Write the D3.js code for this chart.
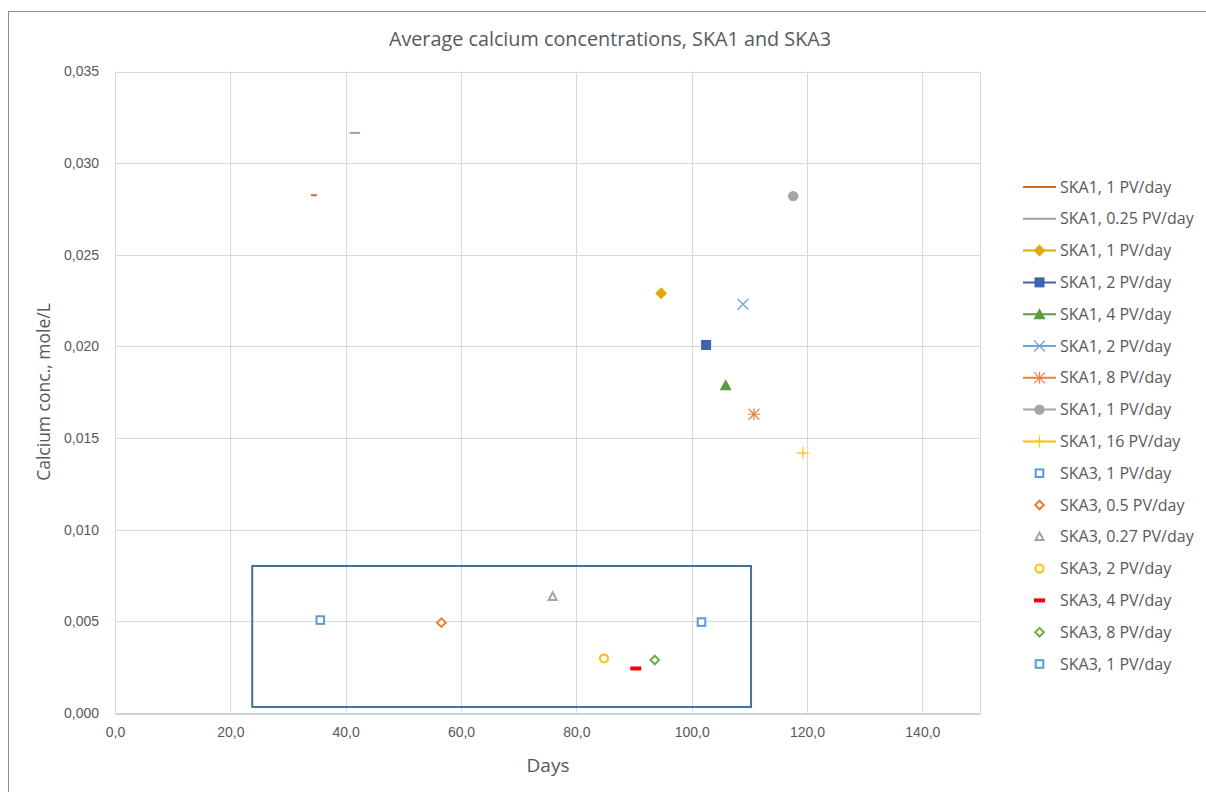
<!DOCTYPE html>
<html><head><meta charset="utf-8">
<script src="https://cdn.jsdelivr.net/npm/d3@7"></script>
<style>
html,body{margin:0;padding:0;background:#fff;}
svg{display:block;font-family:"Open Sans","Liberation Sans",sans-serif;}
</style></head>
<body>
<svg id="chart" width="1206" height="792"></svg>
<script>
// ---- Data ----
const seriesNames = [
  "SKA1, 1 PV/day","SKA1, 0.25 PV/day","SKA1, 1 PV/day","SKA1, 2 PV/day","SKA1, 4 PV/day",
  "SKA1, 2 PV/day","SKA1, 8 PV/day","SKA1, 1 PV/day","SKA1, 16 PV/day",
  "SKA3, 1 PV/day","SKA3, 0.5 PV/day","SKA3, 0.27 PV/day","SKA3, 2 PV/day","SKA3, 4 PV/day",
  "SKA3, 8 PV/day","SKA3, 1 PV/day"
];
const seriesColors = [
  "#D2691E","#A0A0A0","#E2A90A","#3F63AD","#5E9B3C","#6FA3DB","#F08040","#A5A5A5","#FFC000",
  "#5B9BD5","#ED7D31","#A5A5A5","#FFC000","#FF0000","#70AD47","#5B9BD5"
];
const seriesMarkers = [
  "none","none","diamond","square","triangle","x","star","circle","plus",
  "osquare","odiamond","otriangle","ocircle","dash","odiamond","osquare"
];
const seriesLines = [true,true,true,true,true,true,true,true,true,false,false,false,false,false,false,false];
// Points per series: [days, concentration]
const seriesX = [
  [34.0,35.0],[40.7,42.5],[94.7],[102.5],[105.9],[108.9],[110.8],[117.6],[119.3],
  [35.6],[56.6],[75.9],[84.8],[90.3],[93.6],[101.7]
];
const seriesY = [
  [0.02825,0.02825],[0.03165,0.03165],[0.0229],[0.02008],[0.01788],[0.0223],[0.0163],[0.0282],[0.01418],
  [0.00507],[0.00493],[0.00634],[0.00298],[0.00243],[0.00289],[0.00496]
];
const xTicks = [0,20,40,60,80,100,120,140];
const yTicks = [0,0.005,0.010,0.015,0.020,0.025,0.030,0.035];
const xDomain = [0,150];
const yDomain = [0,0.035];
// Annotation box (data coordinates): x0,x1,y0,y1
const boxX = [23.8,110.3];
const boxY = [0.00033,0.00802];
const titleText = "Average calcium concentrations, SKA1 and SKA3";
const xTitle = "Days";
const yTitle = "Calcium conc., mole/L";

// ---- Drawing ----
const svg = d3.select("#chart");
const W = 1206, H = 792;
const plot = {left:115, right:980, top:71.5, bottom:713};
const loc = d3.formatLocale({decimal:",", thousands:" ", grouping:[3], currency:["",""]});
const fx = loc.format(".1f"), fy = loc.format(".3f");

const x = d3.scaleLinear().domain(xDomain).range([plot.left, plot.right]);
const y = d3.scaleLinear().domain(yDomain).range([plot.bottom, plot.top]);

// chart frame
svg.append("rect").attr("x",8.5).attr("y",11.5).attr("width",W+20).attr("height",H+20)
  .attr("fill","#fff").attr("stroke","#8c8c8c").attr("stroke-width",1);

const textCol = "#595959";

// gridlines
svg.append("g").selectAll("line").data(xTicks).join("line")
  .attr("x1",d=>Math.round(x(d))+0.5).attr("x2",d=>Math.round(x(d))+0.5)
  .attr("y1",plot.top).attr("y2",plot.bottom)
  .attr("stroke","#d9d9d9").attr("stroke-width",1);
svg.append("g").selectAll("line").data(yTicks.filter(d=>d>0)).join("line")
  .attr("x1",plot.left).attr("x2",plot.right)
  .attr("y1",d=>Math.round(y(d))+0.5).attr("y2",d=>Math.round(y(d))+0.5)
  .attr("stroke","#d9d9d9").attr("stroke-width",1);
// right edge gridline (150)
svg.append("line").attr("x1",plot.right+0.5).attr("x2",plot.right+0.5)
  .attr("y1",plot.top).attr("y2",plot.bottom).attr("stroke","#d9d9d9");

// axes
const xAxis = d3.axisBottom(x).tickValues(xTicks).tickFormat(fx).tickSize(0).tickPadding(14);
const gx = svg.append("g").attr("transform",`translate(0,${Math.round(plot.bottom)+0.5})`).call(xAxis);
gx.select(".domain").attr("stroke","#d0d0d0").attr("stroke-width",2);
gx.selectAll("text").attr("fill",textCol).attr("font-size","14px");

const yAxis = d3.axisLeft(y).tickValues(yTicks).tickFormat(fy).tickSize(0).tickPadding(16);
const gy = svg.append("g").attr("transform",`translate(${plot.left},0)`).call(yAxis);
gy.select(".domain").remove();
gy.selectAll("text").attr("fill",textCol).attr("font-size","14px");

// titles
svg.append("text").attr("x",610).attr("y",46).attr("text-anchor","middle")
  .attr("fill",textCol).attr("font-size","19.8px").text(titleText);
svg.append("text").attr("x",548).attr("y",772).attr("text-anchor","middle")
  .attr("fill",textCol).attr("font-size","19px").text(xTitle);
svg.append("text").attr("transform","translate(50,392) rotate(-90)").attr("text-anchor","middle")
  .attr("fill",textCol).attr("font-size","17.5px").text(yTitle);

// annotation box
svg.append("rect").attr("x",x(boxX[0])).attr("y",y(boxY[1]))
  .attr("width",x(boxX[1])-x(boxX[0])).attr("height",y(boxY[0])-y(boxY[1]))
  .attr("fill","none").attr("stroke","#41719C").attr("stroke-width",2);

// marker drawing
function drawMarker(g, type, color, cx, cy){
  const s = g.append("g").attr("transform",`translate(${cx},${cy})`);
  switch(type){
    case "diamond": s.append("path").attr("d","M0,-6L6,0L0,6L-6,0Z").attr("fill",color); break;
    case "square": s.append("rect").attr("x",-5).attr("y",-5).attr("width",10).attr("height",10).attr("fill",color); break;
    case "triangle": s.append("path").attr("d","M0,-6L6,5L-6,5Z").attr("fill",color); break;
    case "x": s.append("path").attr("d","M-5.5,-5.5L5.5,5.5M-5.5,5.5L5.5,-5.5").attr("stroke",color).attr("stroke-width",1.2); break;
    case "star": s.append("path").attr("d","M-5.5,-5.5L5.5,5.5M-5.5,5.5L5.5,-5.5M0,-6L0,6M-6,0L6,0").attr("stroke",color).attr("stroke-width",1.2); break;
    case "circle": s.append("circle").attr("r",5.2).attr("fill",color); break;
    case "plus": s.append("path").attr("d","M-6,0L6,0M0,-6L0,6").attr("stroke",color).attr("stroke-width",1.2); break;
    case "osquare": s.append("rect").attr("x",-3.8).attr("y",-3.8).attr("width",7.6).attr("height",7.6).attr("fill","#fff").attr("stroke",color).attr("stroke-width",2); break;
    case "odiamond": s.append("path").attr("d","M0,-4.3L4.3,0L0,4.3L-4.3,0Z").attr("fill","#fff").attr("stroke",color).attr("stroke-width",2); break;
    case "otriangle": s.append("path").attr("d","M0,-4.3L4,3.3L-4,3.3Z").attr("fill","#fff").attr("stroke",color).attr("stroke-width",2); break;
    case "ocircle": s.append("circle").attr("r",4).attr("fill","#fff").attr("stroke",color).attr("stroke-width",2); break;
    case "dash": s.append("rect").attr("x",-5.5).attr("y",-2).attr("width",11).attr("height",4).attr("fill",color); break;
  }
}

const line = d3.line().x(d=>x(d[0])).y(d=>y(d[1]));
const pts = seriesX.map((xs,i)=>xs.map((v,j)=>[v,seriesY[i][j]]));
const gData = svg.append("g");
pts.forEach((p,i)=>{
  if(p.length>1){
    gData.append("path").datum(p).attr("d",line).attr("fill","none")
      .attr("stroke",seriesColors[i]).attr("stroke-width",2);
  }
  p.forEach(d=>drawMarker(gData, seriesMarkers[i], seriesColors[i], x(d[0]), y(d[1])));
});

// legend
const lg = svg.append("g");
const legY0 = 187, legStep = 31.8;
seriesNames.forEach((name,i)=>{
  const yy = legY0 + i*legStep;
  if(seriesLines[i]){
    lg.append("line").attr("x1",1023).attr("x2",1056).attr("y1",yy).attr("y2",yy)
      .attr("stroke",seriesColors[i]).attr("stroke-width",2);
  }
  if(seriesMarkers[i]!=="none") drawMarker(lg, seriesMarkers[i], seriesColors[i], 1039.5, yy);
  lg.append("text").attr("x",1060).attr("y",yy).attr("dy","0.35em")
    .attr("fill",textCol).attr("font-size","16px").text(name);
});
</script>
</body></html>
